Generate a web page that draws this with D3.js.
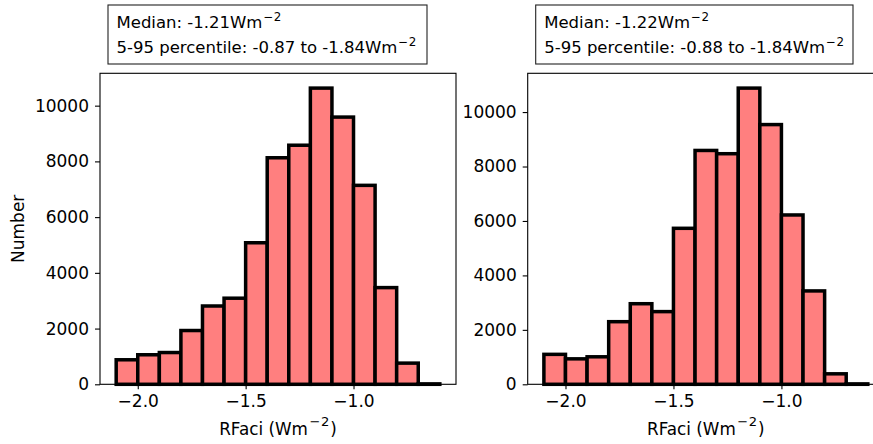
<!DOCTYPE html>
<html>
<head>
<meta charset="utf-8">
<script src="https://cdn.jsdelivr.net/npm/d3@7"></script>
<style>
  html, body { margin: 0; padding: 0; background: #fff; }
  svg { display: block; font-family: "DejaVu Sans", sans-serif; }
</style>
</head>
<body>
<svg id="chart" width="873" height="444"></svg>
<script>
// Histogram bin edges (Wm^-2), 15 bins of width 0.1
const binEdges = [-2.1, -2.0, -1.9, -1.8, -1.7, -1.6, -1.5, -1.4, -1.3, -1.2, -1.1, -1.0, -0.9, -0.8, -0.7, -0.6];

// Counts per bin for each ensemble
const countsLeft  = [880, 1060, 1140, 1930, 2810, 3090, 5080, 8130, 8580, 10630, 9590, 7140, 3470, 760, 15];
const countsRight = [1100, 935, 1010, 2300, 2960, 2670, 5730, 8590, 8470, 10880, 9540, 6220, 3430, 385, 15];

// Summary statistics shown above each panel
const medians = ["-1.21", "-1.22"];
const pctLow  = ["-0.87", "-0.88"];
const pctHigh = ["-1.84", "-1.84"];

const xTicks = [-2.0, -1.5, -1.0];
const yTicks = [0, 2000, 4000, 6000, 8000, 10000];

const svg = d3.select("#chart");
const fontTick = 17;
const fontLabel = 16.8;
const fontBox = 16.5;

const panels = [
  { counts: countsLeft,  x0: 100,   x1: 456, ylabel: true,  box: [108, 427],   stat: 0 },
  { counts: countsRight, x0: 527.7, x1: 884, ylabel: false, box: [535.7, 853], stat: 1 }
];
const yTop = 73.3, yBot = 384.3;

// "Wm" followed by a raised "−2" exponent
function addUnit(textSel, size, supScale, raise, gap) {
  textSel.append("tspan").text("Wm");
  const s = size * supScale;
  textSel.append("tspan").attr("font-size", s).attr("dx", gap).attr("dy", -raise).text("\u2212");
  textSel.append("tspan").attr("font-size", s).attr("dx", 0.5).text("2");
  return raise;
}

panels.forEach(p => {
  const bins = p.counts.map((c, i) => ({ lo: binEdges[i], hi: binEdges[i + 1], n: c }));
  const lo = binEdges[0], hi = binEdges[binEdges.length - 1];
  const pad = (hi - lo) * 0.05;
  const x = d3.scaleLinear().domain([lo - pad, hi + pad]).range([p.x0, p.x1]);
  const y = d3.scaleLinear().domain([0, d3.max(p.counts) * 1.05]).range([yBot, yTop]);

  const g = svg.append("g");

  // Bars
  g.selectAll("rect.bar").data(bins).join("rect")
    .attr("class", "bar")
    .attr("x", d => x(d.lo))
    .attr("width", d => x(d.hi) - x(d.lo))
    .attr("y", d => y(d.n))
    .attr("height", d => y(0) - y(d.n))
    .attr("fill", "#ff7f7f")
    .attr("stroke", "#000")
    .attr("stroke-width", 3.5)
    .attr("stroke-linejoin", "miter");

  // Frame
  g.append("rect")
    .attr("x", p.x0).attr("y", yTop)
    .attr("width", p.x1 - p.x0).attr("height", yBot - yTop)
    .attr("fill", "none").attr("stroke", "#000").attr("stroke-width", 1.1);

  // Axes
  const xAxis = d3.axisBottom(x).tickValues(xTicks).tickFormat(d3.format(".1f"))
    .tickSizeInner(5).tickSizeOuter(0).tickPadding(6);
  const yAxis = d3.axisLeft(y).tickValues(yTicks).tickFormat(d3.format("d"))
    .tickSizeInner(5).tickSizeOuter(0).tickPadding(6);

  const gx = g.append("g").attr("transform", `translate(0,${yBot})`).call(xAxis);
  const gy = g.append("g").attr("transform", `translate(${p.x0},0)`).call(yAxis);
  [gx, gy].forEach(a => {
    a.select(".domain").remove();
    a.selectAll(".tick line").attr("stroke", "#000").attr("stroke-width", 1.1);
    a.selectAll(".tick text").attr("fill", "#000")
      .attr("font-size", fontTick).attr("font-family", "DejaVu Sans");
  });

  // X axis label
  const xl = g.append("text")
    .attr("x", (x(lo - pad) + x(hi + pad)) / 2)
    .attr("y", 434.5)
    .attr("text-anchor", "middle")
    .attr("font-size", fontLabel)
    .attr("fill", "#000");
  xl.append("tspan").text("RFaci (");
  const r = addUnit(xl, fontLabel, 0.78, 8.5, 1.5);
  xl.append("tspan").attr("dx", 1).attr("dy", r).text(")");

  // Y axis label
  if (p.ylabel) {
    g.append("text")
      .attr("transform", `translate(24,${(yTop + yBot) / 2}) rotate(-90)`)
      .attr("text-anchor", "middle")
      .attr("font-size", fontTick)
      .attr("fill", "#000")
      .text("Number");
  }

  // Statistics box
  const [bx0, bx1] = p.box;
  g.append("rect")
    .attr("x", bx0).attr("y", 5)
    .attr("width", bx1 - bx0).attr("height", 59)
    .attr("fill", "#fff").attr("stroke", "#222").attr("stroke-width", 1.1);

  const t1 = g.append("text").attr("x", bx0 + 8.5).attr("y", 28)
    .attr("font-size", fontBox).attr("fill", "#000");
  t1.append("tspan").text(`Median: ${medians[p.stat]}`);
  addUnit(t1, fontBox, 0.72, 7, 1);

  const t2 = g.append("text").attr("x", bx0 + 8.5).attr("y", 52.5)
    .attr("font-size", fontBox).attr("fill", "#000");
  t2.append("tspan").text(`5-95 percentile: ${pctLow[p.stat]} to ${pctHigh[p.stat]}`);
  addUnit(t2, fontBox, 0.72, 7, 1);
});
</script>
</body>
</html>
